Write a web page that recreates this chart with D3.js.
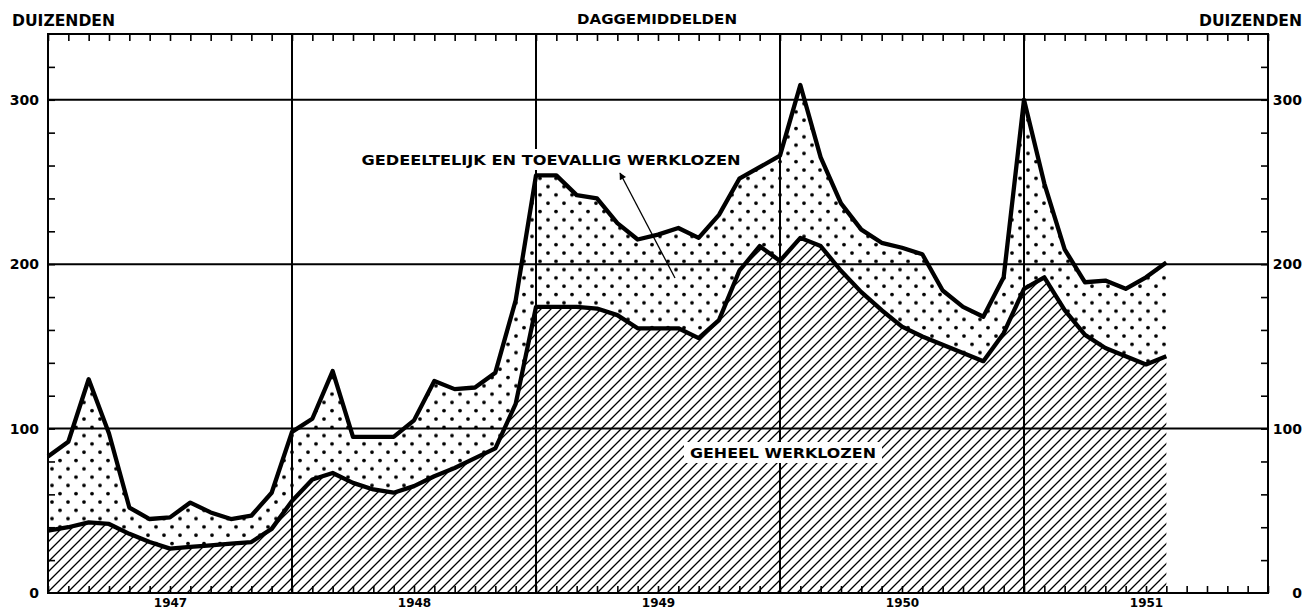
<!DOCTYPE html>
<html>
<head>
<meta charset="utf-8">
<title>Werklozen 1947-1951</title>
<style>
body { margin: 0; background: #fff; }
svg { display: block; }
.axis path { display: none; }
.axis line { stroke: #000; stroke-width: 1.6px; }
.axis text {
    font-family: "DejaVu Sans", sans-serif;
    font-weight: bold;
    font-size: 13px;
    fill: #000;
}
.label {
    font-family: "DejaVu Sans", sans-serif;
    font-weight: bold;
    fill: #000;
}
</style>
</head>
<body>
<script src="https://d3js.org/d3.v7.min.js"></script>
<script>

// months, one point per month (Jan 1947 .. Aug 1951)
var months = [
  "1947-01","1947-02","1947-03","1947-04","1947-05","1947-06","1947-07","1947-08","1947-09","1947-10","1947-11","1947-12",
  "1948-01","1948-02","1948-03","1948-04","1948-05","1948-06","1948-07","1948-08","1948-09","1948-10","1948-11","1948-12",
  "1949-01","1949-02","1949-03","1949-04","1949-05","1949-06","1949-07","1949-08","1949-09","1949-10","1949-11","1949-12",
  "1950-01","1950-02","1950-03","1950-04","1950-05","1950-06","1950-07","1950-08","1950-09","1950-10","1950-11","1950-12",
  "1951-01","1951-02","1951-03","1951-04","1951-05","1951-06","1951-07","1951-08"
];

// geheel werklozen (duizenden)
var geheel = [
  38, 40, 43, 42, 36, 31, 27, 28, 29, 30, 31, 39,
  56, 69, 73, 67, 63, 61, 65, 71, 76, 82, 88, 115,
  174, 174, 174, 173, 169, 161, 161, 161, 155, 166, 196, 211,
  202, 216, 211, 196, 183, 172, 162, 156, 151, 146, 141, 158,
  185, 192, 172, 157, 149, 144, 139, 144
];

// geheel + gedeeltelijk en toevallig werklozen (duizenden)
var totaal = [
  83, 92, 130, 97, 52, 45, 46, 55, 49, 45, 47, 61,
  98, 106, 135, 95, 95, 95, 105, 129, 124, 125, 134, 178,
  254, 254, 242, 240, 225, 215, 218, 222, 216, 230, 252, 259,
  266, 309, 265, 237, 221, 213, 210, 206, 184, 174, 168, 192,
  300, 249, 209, 189, 190, 185, 192, 201
];

var yearLabels = ["1947", "1948", "1949", "1950", "1951"];
var yLabels = [0, 100, 200, 300];

var w = 1307, h = 613;

var svg = d3.select("body")
    .append("svg")
    .attr("width", w)
    .attr("height", h);

// scales: x in months from Jan 1947, y in thousands
var x = d3.scaleLinear().domain([0, 60]).range([48, 1268]);
var y = d3.scaleLinear().domain([0, 340]).range([593, 34]);

// patterns for hatch and dots
var defs = svg.append("defs");

defs.append("pattern")
    .attr("id", "hatch")
    .attr("patternUnits", "userSpaceOnUse")
    .attr("width", 10)
    .attr("height", 10)
  .append("path")
    .attr("d", "M0,10 L10,0 M-2,2 L2,-2 M8,12 L12,8")
    .attr("stroke", "#000")
    .attr("stroke-width", 1.3);

var dots = defs.append("pattern")
    .attr("id", "dots")
    .attr("patternUnits", "userSpaceOnUse")
    .attr("width", 16)
    .attr("height", 16.6);
dots.append("circle").attr("cx", 4).attr("cy", 4).attr("r", 1.9);
dots.append("circle").attr("cx", 12).attr("cy", 12.3).attr("r", 1.9);

defs.append("marker")
    .attr("id", "arrow")
    .attr("viewBox", "0 0 10 10")
    .attr("refX", 9)
    .attr("refY", 5)
    .attr("markerWidth", 9)
    .attr("markerHeight", 7)
    .attr("markerUnits", "userSpaceOnUse")
    .attr("orient", "auto")
  .append("path")
    .attr("d", "M0,0 L10,5 L0,10 Z");

// areas
var areaGeheel = d3.area()
    .x(function(d, i) { return x(i); })
    .y0(y(0))
    .y1(function(d) { return y(d); });

var areaDeel = d3.area()
    .x(function(d, i) { return x(i); })
    .y0(function(d, i) { return y(geheel[i]); })
    .y1(function(d) { return y(d); });

svg.append("path")
    .datum(geheel)
    .attr("fill", "url(#hatch)")
    .attr("d", areaGeheel);

svg.append("path")
    .datum(totaal)
    .attr("fill", "url(#dots)")
    .attr("d", areaDeel);

// grid lines
svg.selectAll(".hgrid")
    .data([100, 200, 300])
    .enter()
    .append("line")
    .attr("x1", x(0)).attr("x2", x(60))
    .attr("y1", function(d) { return y(d); })
    .attr("y2", function(d) { return y(d); })
    .attr("stroke", "#000")
    .attr("stroke-width", 2);

svg.selectAll(".vgrid")
    .data([12, 24, 36, 48])
    .enter()
    .append("line")
    .attr("x1", function(d) { return x(d); })
    .attr("x2", function(d) { return x(d); })
    .attr("y1", y(0)).attr("y2", y(340))
    .attr("stroke", "#000")
    .attr("stroke-width", 2);

// month ticks top and bottom
svg.append("g")
    .attr("class", "axis")
    .attr("transform", "translate(0," + y(0) + ")")
    .call(d3.axisBottom(x).tickValues(d3.range(0, 61)).tickSize(-7).tickFormat(""));

svg.append("g")
    .attr("class", "axis")
    .attr("transform", "translate(0," + y(340) + ")")
    .call(d3.axisTop(x).tickValues(d3.range(0, 61)).tickSize(-7).tickFormat(""));

// year labels in the middle of each year
svg.append("g")
    .attr("class", "axis")
    .attr("transform", "translate(0," + y(0) + ")")
    .call(d3.axisBottom(x)
        .tickValues(yearLabels.map(function(d, i) { return i * 12 + 6; }))
        .tickSize(0)
        .tickPadding(5)
        .tickFormat(function(d, i) { return yearLabels[i]; }))
    .selectAll("text")
    .style("font-size", "12px");

// y ticks left and right
var minor = d3.range(20, 340, 20);
svg.append("g")
    .attr("class", "axis")
    .attr("transform", "translate(" + x(0) + ",0)")
    .call(d3.axisLeft(y).tickValues(minor).tickSize(-7).tickFormat(""));

svg.append("g")
    .attr("class", "axis")
    .attr("transform", "translate(" + x(60) + ",0)")
    .call(d3.axisRight(y).tickValues(minor).tickSize(-7).tickFormat(""));

svg.append("g")
    .attr("class", "axis")
    .attr("transform", "translate(" + x(0) + ",0)")
    .call(d3.axisLeft(y).tickValues(yLabels).tickSize(0).tickPadding(9))
    .selectAll("text")
    .style("font-size", "14px");

svg.append("g")
    .attr("class", "axis")
    .attr("transform", "translate(" + x(60) + ",0)")
    .call(d3.axisRight(y).tickValues(yLabels).tickSize(0))
    .selectAll("text")
    .style("font-size", "14px")
    .attr("text-anchor", "end")
    .attr("x", 34);

// frame
svg.append("rect")
    .attr("x", x(0))
    .attr("y", y(340))
    .attr("width", x(60) - x(0))
    .attr("height", y(0) - y(340))
    .attr("fill", "none")
    .attr("stroke", "#000")
    .attr("stroke-width", 2);

// data lines
var line = d3.line()
    .x(function(d, i) { return x(i); })
    .y(function(d) { return y(d); });

[geheel, totaal].forEach(function(s) {
    svg.append("path")
        .datum(s)
        .attr("fill", "none")
        .attr("stroke", "#000")
        .attr("stroke-width", 4.3)
        .attr("stroke-linejoin", "round")
        .attr("d", line);
});

// labels with white box behind
function boxLabel(txt, cx, base, len, size) {
    svg.append("rect")
        .attr("x", cx - len / 2 - 6)
        .attr("y", base - size - 2)
        .attr("width", len + 12)
        .attr("height", size + 7)
        .attr("fill", "#fff");
    svg.append("text")
        .attr("class", "label")
        .attr("x", cx)
        .attr("y", base)
        .attr("text-anchor", "middle")
        .attr("textLength", len)
        .attr("lengthAdjust", "spacingAndGlyphs")
        .style("font-size", size + "px")
        .text(txt);
}

boxLabel("GEDEELTELIJK EN TOEVALLIG WERKLOZEN", 551, 165, 379, 14);
boxLabel("GEHEEL WERKLOZEN", 783, 458, 186, 14);

// arrow to the dotted area
svg.append("line")
    .attr("x1", 675).attr("y1", 278)
    .attr("x2", 620).attr("y2", 173)
    .attr("stroke", "#000")
    .attr("stroke-width", 1.3)
    .attr("marker-end", "url(#arrow)");

// titles on top
svg.append("text")
    .attr("class", "label")
    .attr("x", 12).attr("y", 26)
    .attr("textLength", 103)
    .attr("lengthAdjust", "spacingAndGlyphs")
    .style("font-size", "15px")
    .text("DUIZENDEN");

svg.append("text")
    .attr("class", "label")
    .attr("x", 1302).attr("y", 26)
    .attr("text-anchor", "end")
    .attr("textLength", 103)
    .attr("lengthAdjust", "spacingAndGlyphs")
    .style("font-size", "15px")
    .text("DUIZENDEN");

svg.append("text")
    .attr("class", "label")
    .attr("x", 657).attr("y", 24)
    .attr("text-anchor", "middle")
    .attr("textLength", 160)
    .attr("lengthAdjust", "spacingAndGlyphs")
    .style("font-size", "14px")
    .text("DAGGEMIDDELDEN");

</script>
</body>
</html>
